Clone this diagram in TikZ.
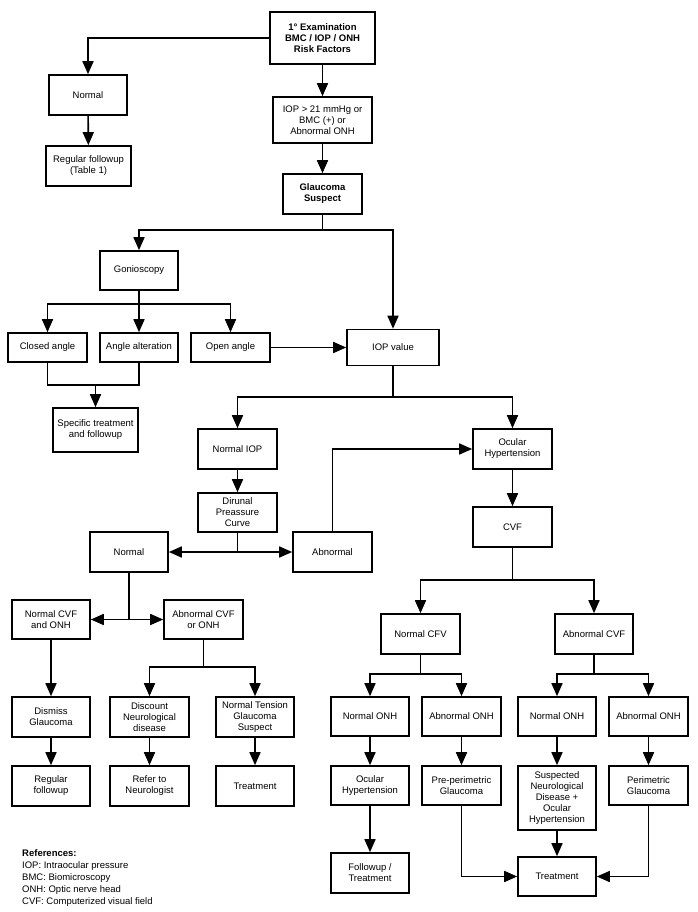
\documentclass[tikz,border=0pt]{standalone}
\usepackage{fontspec}
\setmainfont{Liberation Sans}
\usetikzlibrary{arrows.meta}
\begin{document}
\begin{tikzpicture}[x=1pt,y=-1pt,
  bx/.style={draw, line width=1.6pt, align=center, inner sep=1pt,
    font=\fontsize{9.5}{11}\selectfont, minimum width=78pt, minimum height=40pt},
  bb/.style={bx, font=\fontsize{9.5}{11}\selectfont\bfseries},
  ln/.style={line width=1.6pt},
  ar/.style={line width=1.6pt, -{Triangle[length=13pt,width=11pt]}},
  ar2/.style={line width=1.6pt, {Triangle[length=13pt,width=11pt]}-{Triangle[length=13pt,width=11pt]}}]
\fill[white] (0,0) rectangle (697,912);
\useasboundingbox (0,0) rectangle (697,912);
% nodes
\node[bb, minimum width=105pt, minimum height=52pt] (exam) at (322.5,38) {1° Examination\\BMC / IOP / ONH\\Risk Factors};
\node[bx] (norm1) at (88,95) {Normal};
\node[bx, minimum width=85pt] (regf1) at (88.5,166) {Regular followup\\(Table 1)};
\node[bx, minimum width=99pt, minimum height=46pt] (iop21) at (322.5,120) {IOP > 21 mmHg or\\BMC (+) or\\Abnormal ONH};
\node[bb, minimum width=79pt] (gsus) at (322.5,194) {Glaucoma\\Suspect};
\node[bx, minimum height=39pt] (gonio) at (139,270.5) {Gonioscopy};
\node[bx, minimum width=79pt, minimum height=29pt] (closed) at (47.5,347.5) {Closed angle};
\node[bx, minimum height=29pt] (alter) at (139,347.5) {Angle alteration};
\node[bx, minimum width=79pt, minimum height=29pt] (open) at (230.5,347.5) {Open angle};
\node[bx, minimum width=92pt, minimum height=36pt] (iopv) at (393,347.5) {IOP value};
\node[bx, minimum width=85pt, minimum height=44pt] (spec) at (95.5,430) {Specific treatment\\and followup};
\node[bx, minimum width=79pt] (niop) at (237.5,449) {Normal IOP};
\node[bx, minimum width=79pt] (ochyp) at (512.5,449) {Ocular\\Hypertension};
\node[bx, minimum width=79pt, minimum height=39pt] (dirn) at (237.5,512.5) {Dirunal\\Preassure\\Curve};
\node[bx, minimum width=79pt] (abn) at (332.5,552) {Abnormal};
\node[bx, minimum width=79pt] (cvf) at (512.5,527) {CVF};
\node[bx] (norm2) at (129,552) {Normal};
\node[bx, minimum height=39pt] (ncvf) at (51,619.5) {Normal CVF\\and ONH};
\node[bx, minimum width=79pt, minimum height=39pt] (acvf) at (203.5,619.5) {Abnormal CVF\\or ONH};
\node[bx] (dismiss) at (51,717) {Dismiss\\Glaucoma};
\node[bx, minimum width=79pt] (discount) at (149.5,717) {Discount\\Neurological\\disease};
\node[bx] (ntg) at (255,717) {Normal Tension\\Glaucoma\\Suspect};
\node[bx] (regf2) at (51,786) {Regular\\followup};
\node[bx, minimum width=79pt] (refer) at (149.5,786) {Refer to\\Neurologist};
\node[bx] (treat1) at (255,786) {Treatment};
\node[bx, minimum width=79pt] (ncfv) at (420.5,634) {Normal CFV};
\node[bx] (acvf2) at (594,634) {Abnormal CVF};
\node[bx, minimum height=39pt] (nonh1) at (370,716.5) {Normal ONH};
\node[bx, minimum width=79pt, minimum height=39pt] (aonh1) at (461.5,716.5) {Abnormal ONH};
\node[bx, minimum height=39pt] (nonh2) at (557,716.5) {Normal ONH};
\node[bx, minimum width=79pt, minimum height=39pt] (aonh2) at (648.5,716.5) {Abnormal ONH};
\node[bx, minimum height=39pt] (ochyp2) at (370,785.5) {Ocular\\Hypertension};
\node[bx, minimum width=79pt, minimum height=39pt] (preper) at (461.5,785.5) {Pre-perimetric\\Glaucoma};
\node[bx, minimum height=64pt] (suspn) at (557,798) {Suspected\\Neurological\\Disease +\\Ocular\\Hypertension};
\node[bx, minimum width=79pt, minimum height=39pt] (perim) at (648.5,785.5) {Perimetric\\Glaucoma};
\node[bx] (fut) at (370,873) {Followup /\\Treatment};
\node[bx, minimum height=39pt] (treat2) at (557,876.5) {Treatment};
\node[anchor=north west, inner sep=0pt, align=left, font=\fontsize{9.5}{12}\selectfont] (refs) at (22,849)
  {\textbf{References:}\\IOP: Intraocular pressure\\BMC: Biomicroscopy\\ONH: Optic nerve head\\CVF: Computerized visual field};
% junctions
\coordinate (j1) at (322.5,230);
\coordinate (j2) at (139,304);
\coordinate (j3) at (95.5,385);
\coordinate (j4) at (393,397);
\coordinate (j5) at (237.5,552);
\coordinate (j6) at (512.5,580);
\coordinate (j7) at (129,619.5);
\coordinate (j8) at (203.5,667);
\coordinate (j9) at (420.5,674);
\coordinate (j10) at (594,674);
% connectors
\draw[ar] (exam.west) -| (norm1.north);
\draw[ar] (exam) -- (iop21);
\draw[ar] (norm1) -- (regf1);
\draw[ar] (iop21) -- (gsus);
\draw[ln] (gsus.south) -- (j1);
\draw[ar] (j1) -| (gonio.north);
\draw[ar] (j1) -| (iopv.north);
\draw[ln] (gonio.south) -- (j2);
\draw[ar] (j2) -| (closed.north);
\draw[ar] (j2) -- (alter.north);
\draw[ar] (j2) -| (open.north);
\draw[ar] (open.east) -- (iopv.west);
\draw[ln] (closed.south) |- (j3) -| (alter.south);
\draw[ar] (j3) -- (spec.north);
\draw[ln] (iopv.south) -- (j4);
\draw[ar] (j4) -| (niop.north);
\draw[ar] (j4) -| (ochyp.north);
\draw[ar] (niop) -- (dirn);
\draw[ln] (dirn.south) -- (j5);
\draw[ar2] (norm2.east) -- (abn.west);
\draw[ar] (abn.north) |- (ochyp.west);
\draw[ar] (ochyp) -- (cvf);
\draw[ln] (cvf.south) -- (j6);
\draw[ar] (j6) -| (ncfv.north);
\draw[ar] (j6) -| (acvf2.north);
\draw[ln] (norm2.south) -- (j7);
\draw[ar2] (ncvf.east) -- (acvf.west);
\draw[ar] (ncvf) -- (dismiss);
\draw[ln] (acvf.south) -- (j8);
\draw[ar] (j8) -| (discount.north);
\draw[ar] (j8) -| (ntg.north);
\draw[ar] (dismiss) -- (regf2);
\draw[ar] (discount) -- (refer);
\draw[ar] (ntg) -- (treat1);
\draw[ln] (ncfv.south) -- (j9);
\draw[ar] (j9) -| (nonh1.north);
\draw[ar] (j9) -| (aonh1.north);
\draw[ln] (acvf2.south) -- (j10);
\draw[ar] (j10) -| (nonh2.north);
\draw[ar] (j10) -| (aonh2.north);
\draw[ar] (nonh1) -- (ochyp2);
\draw[ar] (aonh1) -- (preper);
\draw[ar] (nonh2) -- (suspn);
\draw[ar] (aonh2) -- (perim);
\draw[ar] (ochyp2) -- (fut);
\draw[ar] (suspn) -- (treat2);
\draw[ar] (preper.south) |- (treat2.west);
\draw[ar] (perim.south) |- (treat2.east);
\end{tikzpicture}
\end{document}
